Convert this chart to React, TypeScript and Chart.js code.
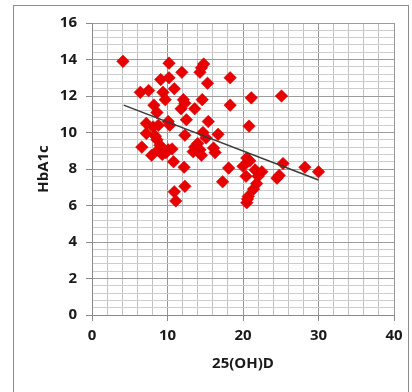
import React, { useEffect, useRef } from 'react';
import { Chart, registerables } from 'chart.js';

Chart.register(...registerables);

// 25(OH)D values (x) and HbA1c values (y)
const vitaminD = [
  4.1, 10.2, 11.9, 14.3, 14.5, 14.8, 9.1, 10.2, 10.9, 15.3, 18.3, 6.4, 7.5, 9.4, 9.7, 8.2, 8.6,
  12.1, 11.8, 12.3, 13.6, 14.6, 18.3, 21.1, 25.1, 12.5, 10.1, 10.3, 15.4, 7.2, 8.1, 8.8, 7.2,
  8.4, 12.3, 14.7, 15.1, 16.7, 20.8, 6.6, 7.9, 8.6, 9.0, 8.8, 9.5, 10.1, 10.6, 9.3, 13.6, 14.3,
  14.5, 13.4, 14.0, 16.1, 16.3, 10.8, 12.2, 12.3, 10.9, 11.1, 17.3, 18.1, 20.5, 20.9, 20.0,
  21.6, 22.5, 22.0, 21.8, 21.4, 20.7, 20.5, 20.4, 24.5, 24.8, 25.3, 28.2, 30.0, 20.6, 9.8,
];
const hba1c = [
  13.9, 13.8, 13.3, 13.3, 13.55, 13.75, 12.9, 13.0, 12.4, 12.7, 13.0, 12.2, 12.3, 12.2, 11.8,
  11.5, 11.1, 11.8, 11.3, 11.6, 11.3, 11.8, 11.5, 11.9, 12.0, 10.7, 10.6, 10.4, 10.6, 10.5,
  10.3, 10.4, 9.95, 9.8, 9.85, 10.0, 9.7, 9.9, 10.35, 9.2, 8.75, 9.6, 9.3, 9.05, 9.0, 9.05,
  9.1, 8.8, 9.2, 9.05, 8.75, 8.95, 9.4, 9.15, 8.9, 8.4, 8.1, 7.05, 6.75, 6.25, 7.3, 8.05, 8.6,
  8.45, 8.15, 7.95, 7.85, 7.6, 7.2, 6.9, 6.5, 6.15, 7.6, 7.5, 7.65, 8.3, 8.1, 7.85, 6.35, 8.9,
];

// Linear trend line end points
const trendX = [4.2, 30.0];
const trendY = [11.5, 7.4];

const xMin = 0;
const xMax = 40;
const xMinorStep = 2;
const xMajorStep = 10;
const yMin = 0;
const yMax = 16;
const yMinorStep = 0.4;
const yMajorStep = 2;

const xTitle = '25(OH)D';
const yTitle = 'HbA1c';

const isMultiple = (v: number, step: number) => Math.abs(v / step - Math.round(v / step)) < 1e-6;

const FONT = "'Open Sans', 'Liberation Sans', sans-serif";

export default function App() {
  const canvasRef = useRef<HTMLCanvasElement | null>(null);

  useEffect(() => {
    document.body.style.margin = '0';
    const canvas = canvasRef.current;
    if (!canvas) return;

    const points = vitaminD.map((x, i) => ({ x, y: hba1c[i] }));
    const trend = trendX.map((x, i) => ({ x, y: trendY[i] }));

    const chart = new Chart(canvas, {
      type: 'scatter',
      data: {
        datasets: [
          {
            label: 'trend',
            data: trend,
            showLine: true,
            borderColor: '#3a3a3a',
            borderWidth: 1.5,
            pointRadius: 0,
            order: 0,
          },
          {
            label: 'HbA1c',
            data: points,
            pointStyle: 'rectRot',
            pointRadius: 6.3,
            backgroundColor: '#e80000',
            borderColor: '#d00000',
            borderWidth: 0.5,
            order: 1,
          },
        ],
      },
      options: {
        animation: false,
        responsive: false,
        maintainAspectRatio: false,
        events: [],
        layout: { padding: { left: 0, right: 18, top: 23, bottom: 0 } },
        plugins: {
          legend: { display: false },
          tooltip: { enabled: false },
        },
        scales: {
          x: {
            type: 'linear',
            min: xMin,
            max: xMax,
            afterFit: (scale: any) => {
              scale.height = 77;
            },
            ticks: {
              stepSize: xMinorStep,
              autoSkip: false,
              maxRotation: 0,
              padding: 6,
              color: '#1a1a1a',
              font: { family: FONT, size: 15, weight: 'bold' },
              callback: (v: any) => (isMultiple(Number(v), xMajorStep) ? String(v) : ''),
            },
            grid: {
              color: (ctx: any) =>
                ctx.tick && isMultiple(ctx.tick.value, xMajorStep) ? '#969696' : '#c2c2c2',
              tickColor: (ctx: any) =>
                ctx.tick && isMultiple(ctx.tick.value, xMajorStep) ? '#8a8a8a' : 'rgba(0,0,0,0)',
              tickLength: 6,
              lineWidth: 1,
            },
            border: { color: '#8a8a8a', width: 1 },
            title: {
              display: true,
              text: xTitle,
              color: '#1a1a1a',
              font: { family: FONT, size: 15, weight: 'bold' },
              padding: { top: 0, bottom: 19 },
            },
          },
          y: {
            type: 'linear',
            min: yMin,
            max: yMax,
            afterFit: (scale: any) => {
              scale.width = 92;
            },
            ticks: {
              stepSize: yMinorStep,
              autoSkip: false,
              padding: 9,
              color: '#1a1a1a',
              font: { family: FONT, size: 15, weight: 'bold' },
              callback: (v: any) => (isMultiple(Number(v), yMajorStep) ? String(Math.round(Number(v))) : ''),
            },
            grid: {
              color: (ctx: any) =>
                ctx.tick && isMultiple(ctx.tick.value, yMajorStep) ? '#9c9c9c' : '#cdcdcd',
              tickColor: (ctx: any) =>
                ctx.tick && isMultiple(ctx.tick.value, yMajorStep) ? '#8a8a8a' : 'rgba(0,0,0,0)',
              tickLength: 6,
              lineWidth: 1,
            },
            border: { color: '#8a8a8a', width: 1 },
            title: {
              display: true,
              text: yTitle,
              color: '#1a1a1a',
              font: { family: FONT, size: 15, weight: 'bold' },
              padding: { top: 35, bottom: 0 },
            },
          },
        },
      },
    });

    return () => {
      chart.destroy();
    };
  }, []);

  return (
    <div style={{ position: 'relative', width: 412, height: 392, overflow: 'hidden', background: '#fff' }}>
      <div
        style={{
          position: 'absolute',
          left: 13,
          top: 5,
          width: 396,
          height: 420,
          border: '1px solid #8c8c8c',
          boxSizing: 'border-box',
        }}
      />
      <canvas
        ref={canvasRef}
        width={412}
        height={392}
        style={{ position: 'absolute', left: 0, top: 0, width: 412, height: 392 }}
      />
    </div>
  );
}
